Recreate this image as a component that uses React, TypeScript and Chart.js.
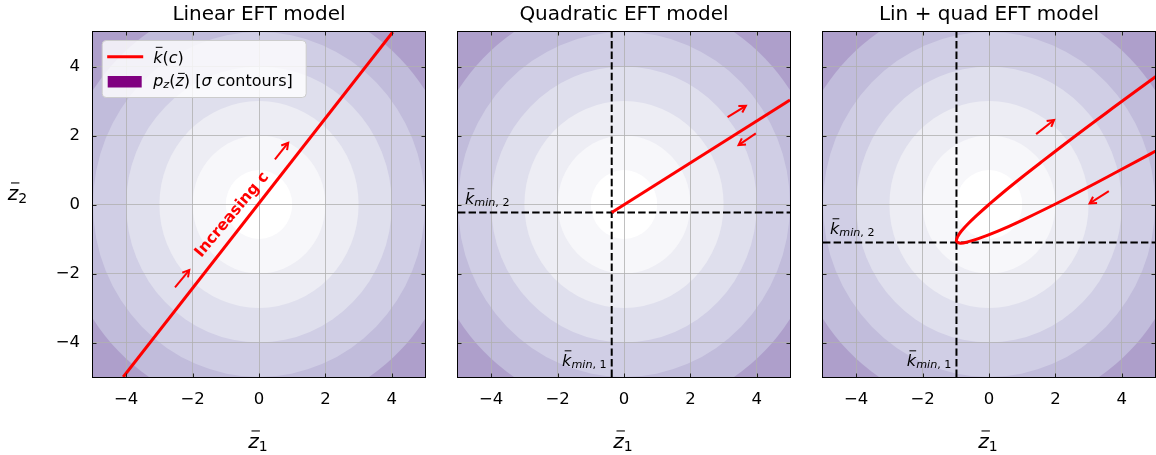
import React, { useEffect, useRef } from 'react';
import { Chart, registerables } from 'chart.js';

Chart.register(...registerables);

const FONT = '"DejaVu Sans", "Liberation Sans", sans-serif';

// ---------------- data ----------------
const X_TICKS = [-4, -2, 0, 2, 4];
const Y_TICKS = [-4, -2, 0, 2, 4];
const Z_MIN = -5;
const Z_MAX = 5;

// sigma contours of p_z (radii in whitened space), outermost first
const SIGMA_RADII = [6, 5, 4, 3, 2, 1];
const SIGMA_FILLS = ['#c1bcdb', '#d0cee5', '#dfdfed', '#ededf4', '#f7f7fa', '#ffffff'];
const OUTSIDE_FILL = '#ae9fcb';

const TITLES = ['Linear EFT model', 'Quadratic EFT model', 'Lin + quad EFT model'];

// Linear model: k(c)
const LIN_Z1 = [-4.09, 4.03];
const LIN_Z2 = [-5.0, 5.0];

// Quadratic model
const QUAD_Z1 = [-0.37, 5.0];
const QUAD_Z2 = [-0.23, 3.03];
const QUAD_KMIN = [-0.37, -0.23];

// Linear + quadratic model (from far lower branch, round the tip, to far upper branch)
const LQ_Z1 = [5.83, 3.9, 2.3, 1.01, 0.25, -0.32, -0.67, -0.85, -0.94, -0.98, -0.97, -0.92, -0.83, -0.63, -0.36, 0.0, 0.68, 1.55, 2.59, 3.82, 5.22];
const LQ_Z2 = [1.97, 0.97, 0.16, -0.45, -0.78, -0.99, -1.09, -1.12, -1.1, -1.06, -0.99, -0.89, -0.77, -0.56, -0.31, 0.0, 0.55, 1.21, 1.98, 2.86, 3.85];
const LQ_KMIN = [-0.98, -1.1];

// arrows [z1 start, z2 start, z1 end, z2 end]
const LIN_ARROWS = [
  [-2.53, -2.4, -2.1, -1.9],
  [0.48, 1.31, 0.88, 1.79],
];
const QUAD_ARROWS = [
  [3.12, 2.53, 3.67, 2.86],
  [3.97, 2.06, 3.45, 1.72],
];
const LQ_ARROWS = [
  [1.42, 2.04, 1.96, 2.45],
  [3.61, 0.39, 3.03, 0.03],
];

const INCREASING_POS = [-0.81, -0.3];

// ---------------- helpers ----------------
type Seg = { t: string; it?: boolean; sub?: boolean; bar?: number };

function segFont(s: Seg, size: number) {
  return `${s.it ? 'italic ' : ''}${s.sub ? size * 0.7 : size}px ${FONT}`;
}

function drawMath(
  ctx: CanvasRenderingContext2D,
  segs: Seg[],
  x: number,
  y: number,
  size: number,
  align: 'left' | 'right' | 'center',
  color = '#000'
) {
  ctx.save();
  ctx.textBaseline = 'alphabetic';
  ctx.textAlign = 'left';
  ctx.fillStyle = color;
  const widths = segs.map((s) => {
    ctx.font = segFont(s, size);
    return ctx.measureText(s.t).width;
  });
  const total = widths.reduce((a, b) => a + b, 0);
  let cx = align === 'left' ? x : align === 'right' ? x - total : x - total / 2;
  segs.forEach((s, i) => {
    ctx.font = segFont(s, size);
    const yy = y + (s.sub ? size * 0.15 : 0);
    ctx.fillText(s.t, cx, yy);
    if (s.bar) {
      ctx.fillRect(cx + 0.16 * size, y - s.bar * size, 0.42 * size, Math.max(1, size * 0.055));
    }
    cx += widths[i];
  });
  ctx.restore();
}

function drawArrow(ctx: CanvasRenderingContext2D, x0: number, y0: number, x1: number, y1: number) {
  ctx.beginPath();
  ctx.moveTo(x0, y0);
  ctx.lineTo(x1, y1);
  ctx.stroke();
  const ang = Math.atan2(y1 - y0, x1 - x0);
  const hl = 7.5;
  const spread = 0.52;
  ctx.beginPath();
  ctx.moveTo(x1 - hl * Math.cos(ang - spread), y1 - hl * Math.sin(ang - spread));
  ctx.lineTo(x1, y1);
  ctx.lineTo(x1 - hl * Math.cos(ang + spread), y1 - hl * Math.sin(ang + spread));
  ctx.stroke();
}

const toXY = (xs: number[], ys: number[]) => xs.map((x, i) => ({ x, y: ys[i] }));

type PanelSpec = {
  idx: number;
  z1: number[];
  z2: number[];
  tension: number;
  kmin: number[] | null;
  arrows: number[][];
  yLabels: boolean;
  legend: boolean;
  increasing: boolean;
  left: number;
  width: number;
  yw: number;
  padR: number;
};

const PANELS: PanelSpec[] = [
  { idx: 0, z1: LIN_Z1, z2: LIN_Z2, tension: 0, kmin: null, arrows: LIN_ARROWS, yLabels: true, legend: true, increasing: true, left: 0, width: 435, yw: 93, padR: 10 },
  { idx: 1, z1: QUAD_Z1, z2: QUAD_Z2, tension: 0, kmin: QUAD_KMIN, arrows: QUAD_ARROWS, yLabels: false, legend: false, increasing: false, left: 438, width: 362, yw: 20, padR: 10 },
  { idx: 2, z1: LQ_Z1, z2: LQ_Z2, tension: 0.4, kmin: LQ_KMIN, arrows: LQ_ARROWS, yLabels: false, legend: false, increasing: false, left: 803, width: 353, yw: 20, padR: 1 },
];

const HEIGHT = 455;
const TOP = 32;
const XAXIS_H = 78;

function tickLabel(v: number) {
  return v < 0 ? '\u2212' + Math.abs(v) : String(v);
}

function makeDecor(p: PanelSpec) {
  return {
    id: 'decor' + p.idx,
    beforeDraw(chart: any) {
      const { ctx, chartArea: a } = chart;
      const xs = chart.scales.x;
      const ys = chart.scales.y;
      const cx = xs.getPixelForValue(0);
      const cy = ys.getPixelForValue(0);
      ctx.save();
      ctx.beginPath();
      ctx.rect(a.left, a.top, a.right - a.left, a.bottom - a.top);
      ctx.clip();
      ctx.fillStyle = OUTSIDE_FILL;
      ctx.fillRect(a.left, a.top, a.right - a.left, a.bottom - a.top);
      SIGMA_RADII.forEach((r, i) => {
        const rx = Math.abs(xs.getPixelForValue(r) - cx);
        const ry = Math.abs(ys.getPixelForValue(r) - cy);
        ctx.beginPath();
        ctx.ellipse(cx, cy, rx, ry, 0, 0, Math.PI * 2);
        ctx.fillStyle = SIGMA_FILLS[i];
        ctx.fill();
      });
      ctx.restore();
    },
    afterDatasetsDraw(chart: any) {
      const { ctx, chartArea: a } = chart;
      const xs = chart.scales.x;
      const ys = chart.scales.y;
      // arrows
      ctx.save();
      ctx.strokeStyle = '#ff0000';
      ctx.lineWidth = 2;
      ctx.lineCap = 'butt';
      p.arrows.forEach((ar) => {
        drawArrow(ctx, xs.getPixelForValue(ar[0]), ys.getPixelForValue(ar[1]), xs.getPixelForValue(ar[2]), ys.getPixelForValue(ar[3]));
      });
      ctx.restore();
      // "Increasing c"
      if (p.increasing) {
        ctx.save();
        ctx.translate(xs.getPixelForValue(INCREASING_POS[0]), ys.getPixelForValue(INCREASING_POS[1]));
        ctx.rotate((-50 * Math.PI) / 180);
        ctx.font = `bold 15.5px ${FONT}`;
        ctx.fillStyle = '#ff0000';
        ctx.textAlign = 'center';
        ctx.textBaseline = 'middle';
        ctx.fillText('Increasing c', 0, 0);
        ctx.restore();
      }
      // kmin labels
      if (p.kmin) {
        const kx = xs.getPixelForValue(p.kmin[0]);
        const ky = ys.getPixelForValue(p.kmin[1]);
        drawMath(ctx, [{ t: 'k', it: true, bar: 0.98 }, { t: 'min', it: true, sub: true }, { t: ', 2', sub: true }], a.left + 7, ky - 8.5, 16, 'left');
        drawMath(ctx, [{ t: 'k', it: true, bar: 0.98 }, { t: 'min', it: true, sub: true }, { t: ', 1', sub: true }], kx - 5, a.bottom - 11, 16, 'right');
      }
      // inward ticks
      ctx.save();
      ctx.strokeStyle = '#222';
      ctx.lineWidth = 1;
      const tl = 3.5;
      X_TICKS.forEach((v) => {
        const px = Math.round(xs.getPixelForValue(v)) + 0.5;
        ctx.beginPath();
        ctx.moveTo(px, a.bottom);
        ctx.lineTo(px, a.bottom - tl);
        ctx.moveTo(px, a.top);
        ctx.lineTo(px, a.top + tl);
        ctx.stroke();
      });
      Y_TICKS.forEach((v) => {
        const py = Math.round(ys.getPixelForValue(v)) + 0.5;
        ctx.beginPath();
        ctx.moveTo(a.left, py);
        ctx.lineTo(a.left + tl, py);
        ctx.moveTo(a.right, py);
        ctx.lineTo(a.right - tl, py);
        ctx.stroke();
      });
      // frame
      ctx.strokeStyle = '#000';
      ctx.lineWidth = 1;
      ctx.strokeRect(a.left - 0.5, a.top - 0.5, a.right - a.left + 1, a.bottom - a.top + 1);
      ctx.restore();
    },
    afterDraw(chart: any) {
      const { ctx, chartArea: a } = chart;
      const mid = (a.left + a.right) / 2;
      // title
      ctx.save();
      ctx.font = `20px ${FONT}`;
      ctx.fillStyle = '#000';
      ctx.textAlign = 'center';
      ctx.textBaseline = 'alphabetic';
      ctx.fillText(TITLES[p.idx], mid, 19.5);
      ctx.restore();
      // x label
      drawMath(ctx, [{ t: 'z', it: true, bar: 0.88 }, { t: '1', sub: true }], mid - 1, 448, 20, 'center');
      if (p.yLabels) {
        drawMath(ctx, [{ t: 'z', it: true, bar: 0.88 }, { t: '2', sub: true }], a.left - 75.5, 200, 20, 'center');
      }
      if (p.legend) {
        const lx = a.left + 8.7;
        const ly = a.top + 8;
        const lw = 204;
        const lh = 57;
        ctx.save();
        ctx.beginPath();
        ctx.roundRect(lx + 0.5, ly + 0.5, lw, lh, 4);
        ctx.fillStyle = 'rgba(255,255,255,0.8)';
        ctx.fill();
        ctx.strokeStyle = '#cccccc';
        ctx.lineWidth = 1;
        ctx.stroke();
        ctx.strokeStyle = '#ff0000';
        ctx.lineWidth = 3;
        ctx.beginPath();
        ctx.moveTo(lx + 5.5, ly + 16.7);
        ctx.lineTo(lx + 41.5, ly + 16.7);
        ctx.stroke();
        ctx.fillStyle = '#800080';
        ctx.fillRect(lx + 6, ly + 36, 34, 11.5);
        ctx.restore();
        drawMath(ctx, [{ t: 'k', it: true, bar: 0.98 }, { t: '(' }, { t: 'c', it: true }, { t: ')' }], lx + 51.5, ly + 22.5, 16, 'left');
        drawMath(
          ctx,
          [{ t: 'p', it: true }, { t: 'z', it: true, sub: true }, { t: '(' }, { t: 'z', it: true, bar: 0.82 }, { t: ') [' }, { t: '\u03c3', it: true }, { t: ' contours]' }],
          lx + 51.5,
          ly + 46,
          16,
          'left'
        );
      }
    },
  };
}

function Panel({ spec }: { spec: PanelSpec }) {
  const ref = useRef<HTMLCanvasElement | null>(null);
  useEffect(() => {
    if (!ref.current) return;
    const datasets: any[] = [
      {
        data: toXY(spec.z1, spec.z2),
        showLine: true,
        borderColor: '#ff0000',
        borderWidth: 3,
        pointRadius: 0,
        tension: spec.tension,
        clip: 0,
      },
    ];
    if (spec.kmin) {
      datasets.push(
        {
          data: toXY([spec.kmin[0], spec.kmin[0]], [Z_MIN, Z_MAX]),
          showLine: true,
          borderColor: '#000',
          borderWidth: 2,
          borderDash: [7.4, 3.2],
          pointRadius: 0,
          clip: 0,
        },
        {
          data: toXY([Z_MIN, Z_MAX], [spec.kmin[1], spec.kmin[1]]),
          showLine: true,
          borderColor: '#000',
          borderWidth: 2,
          borderDash: [7.4, 3.2],
          pointRadius: 0,
          clip: 0,
        }
      );
    }
    const chart = new Chart(ref.current, {
      type: 'scatter',
      data: { datasets },
      options: {
        responsive: false,
        animation: false,
        devicePixelRatio: 1,
        events: [],
        layout: { padding: { top: TOP, right: spec.padR, left: 0, bottom: 0 } },
        plugins: { legend: { display: false }, title: { display: false }, tooltip: { enabled: false } },
        scales: {
          x: {
            type: 'linear',
            min: Z_MIN,
            max: Z_MAX,
            afterBuildTicks: (s: any) => {
              s.ticks = X_TICKS.map((v) => ({ value: v }));
            },
            afterFit: (s: any) => {
              s.height = XAXIS_H;
            },
            ticks: {
              autoSkip: false,
              maxRotation: 0,
              padding: 13,
              color: '#000',
              font: { family: FONT, size: 16.5 },
              callback: (v: any) => tickLabel(Number(v)),
            },
            grid: { color: '#b0b0b0', lineWidth: 0.8, drawTicks: false },
            border: { display: false },
          },
          y: {
            type: 'linear',
            min: Z_MIN,
            max: Z_MAX,
            afterBuildTicks: (s: any) => {
              s.ticks = Y_TICKS.map((v) => ({ value: v }));
            },
            afterFit: (s: any) => {
              s.width = spec.yw;
            },
            ticks: {
              display: spec.yLabels,
              autoSkip: false,
              padding: 13,
              color: '#000',
              font: { family: FONT, size: 16.5 },
              callback: (v: any) => tickLabel(Number(v)),
            },
            grid: { color: '#b0b0b0', lineWidth: 0.8, drawTicks: false },
            border: { display: false },
          },
        },
      },
      plugins: [makeDecor(spec)],
    } as any);
    return () => chart.destroy();
  }, [spec]);
  return (
    <canvas
      ref={ref}
      width={spec.width}
      height={HEIGHT}
      style={{ position: 'absolute', left: spec.left, top: 0, width: spec.width, height: HEIGHT }}
    />
  );
}

export default function App() {
  return (
    <div style={{ position: 'absolute', left: 0, top: 0, width: 1156, height: HEIGHT, background: '#fff', overflow: 'hidden' }}>
      {PANELS.map((p) => (
        <Panel key={p.idx} spec={p} />
      ))}
    </div>
  );
}
